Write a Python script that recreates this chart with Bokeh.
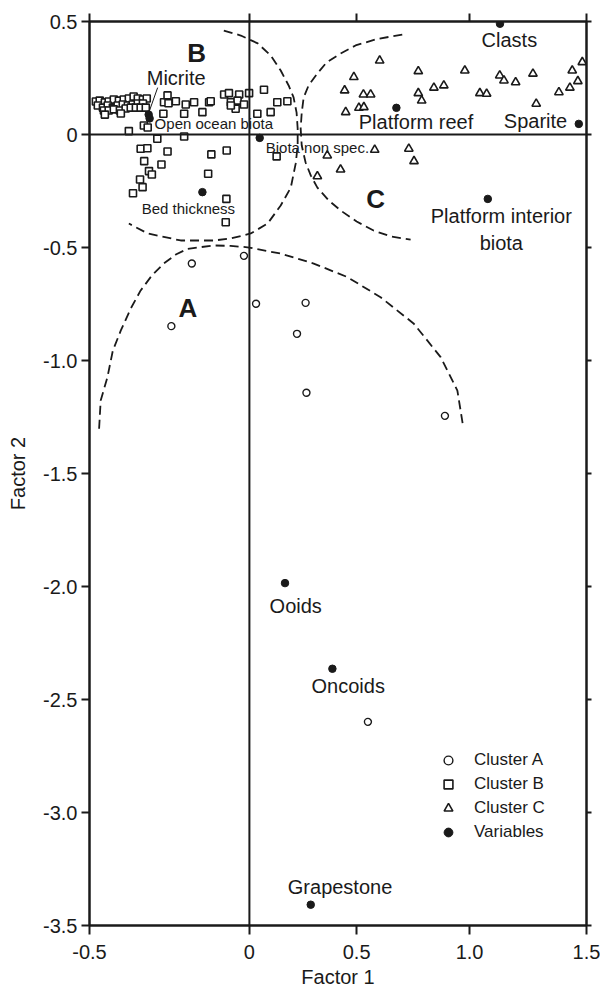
import numpy as np
from bokeh.plotting import figure
from bokeh.models import Range1d, FixedTicker, LinearAxis, Span
from bokeh.core.properties import value
from bokeh.embed import file_html
from bokeh.resources import INLINE

FONT = "Liberation Sans"
INK = "#1a1a1a"

# ---------------- data ----------------
# Cluster A (circles)
a_x = [-0.180, -0.017, -0.244, 0.031, 0.262, 0.222, 0.266, 0.891, 0.550]
a_y = [-0.571, -0.537, -0.848, -0.749, -0.745, -0.882, -1.143, -1.245, -2.599]

# Cluster B (squares)
b_x = [-0.480, -0.468, -0.452, -0.440, -0.424, -0.408, -0.393, -0.377, -0.362, -0.349, -0.333, -0.321,
       -0.474, -0.458, -0.443, -0.427, -0.412, -0.396, -0.380, -0.365, -0.349, -0.333,
       -0.455, -0.440, -0.424, -0.405, -0.387, -0.371, -0.355, -0.340, -0.324,
       -0.452, -0.402,
       -0.330, -0.318, -0.377,
       -0.267, -0.256, -0.253, -0.230, -0.199, -0.173, -0.147, -0.204, -0.269, -0.126, -0.121,
       -0.079, -0.064, -0.032, -0.001, -0.058, -0.037, -0.017, -0.043, -0.058,
       0.068, 0.037, 0.099, 0.130, 0.177,
       -0.288, -0.204, -0.340, -0.319, -0.256, -0.329, -0.275, -0.314, -0.305, -0.342, -0.334, -0.364,
       -0.119, -0.071, -0.129, -0.072, -0.074, 0.127]
b_y = [0.146, 0.150, 0.142, 0.146, 0.155, 0.150, 0.155, 0.159, 0.168, 0.159, 0.155, 0.159,
       0.128, 0.119, 0.128, 0.119, 0.128, 0.133, 0.128, 0.133, 0.137, 0.137,
       0.106, 0.106, 0.111, 0.106, 0.115, 0.119, 0.119, 0.119, 0.119,
       0.088, 0.093,
       0.040, 0.031, 0.015,
       0.143, 0.173, 0.138, 0.147, 0.133, 0.143, 0.099, 0.092, 0.092, 0.143, 0.147,
       0.177, 0.183, 0.177, 0.183, 0.143, 0.150, 0.133, 0.114, 0.128,
       0.198, 0.092, 0.099, 0.143, 0.147,
       -0.019, -0.009, -0.063, -0.061, -0.075, -0.118, -0.133, -0.162, -0.177, -0.199, -0.233, -0.260,
       -0.088, -0.071, -0.174, -0.285, -0.388, -0.097]

# Cluster C (triangles)
c_x = [0.602, 0.487, 0.444, 0.530, 0.562, 0.449, 0.510, 0.532, 0.773, 0.773, 0.788, 0.842, 0.886,
       0.979, 1.044, 1.073, 1.129, 1.147, 1.197, 1.271, 1.285, 1.382, 1.429, 1.439, 1.463, 1.482,
       0.580, 0.731, 0.754, 0.363, 0.425, 0.317]
c_y = [0.327, 0.254, 0.195, 0.177, 0.177, 0.099, 0.118, 0.121, 0.280, 0.183, 0.150, 0.207, 0.217,
       0.283, 0.183, 0.180, 0.261, 0.239, 0.231, 0.269, 0.136, 0.187, 0.207, 0.283, 0.236, 0.320,
       -0.068, -0.063, -0.118, -0.093, -0.155, -0.185]

# Variables (filled dots)
var_names = ["Micrite", "Open ocean biota", "Biota non spec.", "Bed thickness", "Platform reef",
             "Clasts", "Sparite", "Platform interior biota", "Ooids", "Oncoids", "Grapestone"]
var_x = [-0.315, -0.312, 0.048, -0.147, 0.676, 1.130, 1.467, 1.078, 0.166, 0.387, 0.286]
var_y = [0.088, 0.071, -0.015, -0.255, 0.118, 0.490, 0.047, -0.285, -1.985, -2.364, -3.408]

# Cluster envelopes (dashed boundaries)
env_a_x = [-0.470, -0.465, -0.444, -0.427, -0.402, -0.371, -0.340, -0.305, -0.268, -0.230, -0.194,
           -0.112, -0.059, -0.006, 0.146, 0.300, 0.457, 0.606, 0.752, 0.872, 0.946, 0.972]
env_a_y = [-1.302, -1.177, -1.074, -0.956, -0.867, -0.770, -0.690, -0.624, -0.571, -0.531, -0.506,
           -0.491, -0.493, -0.499, -0.527, -0.571, -0.631, -0.720, -0.836, -0.985, -1.133, -1.295]
env_b_x = [-0.080, -0.027, 0.039, 0.099, 0.146, 0.183, 0.206, 0.220, 0.225, 0.225, 0.216, 0.193,
           0.146, 0.085, 0.006, -0.058, -0.111, -0.215, -0.318, -0.377]
env_b_y = [0.460, 0.438, 0.403, 0.350, 0.283, 0.217, 0.164, 0.097, 0.027, -0.049, -0.128, -0.235,
           -0.314, -0.394, -0.438, -0.460, -0.469, -0.469, -0.438, -0.394]
env_c_x = [0.702, 0.592, 0.495, 0.425, 0.360, 0.317, 0.276, 0.253, 0.244, 0.239, 0.244, 0.262,
           0.286, 0.317, 0.370, 0.425, 0.500, 0.575, 0.651, 0.739]
env_c_y = [0.442, 0.423, 0.394, 0.358, 0.319, 0.270, 0.217, 0.164, 0.097, 0.027, -0.049, -0.124,
           -0.181, -0.235, -0.292, -0.336, -0.385, -0.425, -0.451, -0.465]

region_names = ["A", "B", "C"]
region_x = [-0.192, -0.165, 0.584]
region_y = [-0.767, 0.361, -0.285]

x_ticks = [-0.5, 0.0, 0.5, 1.0, 1.5]
x_tick_labels = ["-0.5", "0", "0.5", "1.0", "1.5"]
y_ticks = [0.5, 0.0, -0.5, -1.0, -1.5, -2.0, -2.5, -3.0, -3.5]
y_tick_labels = ["0.5", "0", "-0.5", "-1.0", "-1.5", "-2.0", "-2.5", "-3.0", "-3.5"]

# ---------------- layout / style ----------------
W, H = 600, 991
BL, BR, BT, BB = 89, 14, 21, 66
FRAME_W = W - BL - BR
FRAME_H = H - BT - BB

# The Factor-1 axis of the reference is not uniform: -0.5..0 is drawn wider.
WARP_X = [-0.5, 0.0, 0.5, 1.0, 1.5]
WARP_U = [0.0, 160.0, 267.3, 380.3, 497.3]


def fx(v):
    return np.round(np.interp(np.asarray(v, dtype=float), WARP_X, WARP_U), 3)


U_PER_PX = WARP_U[-1] / FRAME_W
Y_PER_PX = 4.0 / FRAME_H

# label placement (screen px offsets from each dot), alignment, size
lab_dx = [27.5, 5, 6, -14, 19.6, 9.4, -11.6, 13.5, 10.7, 15.8, 29.3]
lab_dy = [-37, 5, 9.4, 16.1, 13.9, 16.2, -3, 30.7, 23.1, 17.5, -17.5]
lab_align = ["center", "left", "left", "center", "center", "center", "right", "center", "center", "center", "center"]
lab_size = ["20px", "15px", "15px", "15px", "20px", "20px", "20px", "20px", "20px", "20px", "20px"]

p = figure(width=W, height=H, x_range=Range1d(WARP_U[0], WARP_U[-1]), y_range=Range1d(-3.5, 0.5),
           output_backend="svg", toolbar_location=None,
           min_border_left=BL, min_border_right=BR, min_border_top=BT, min_border_bottom=BB,
           x_axis_label="Factor 1", y_axis_label="Factor 2")
p.grid.visible = False
p.outline_line_color = INK
p.outline_line_width = 2
p.background_fill_color = "white"
p.border_fill_color = "white"

xt = [float(u) for u in fx(x_ticks)]
xa = p.xaxis[0]
xa.ticker = FixedTicker(ticks=xt)
xa.major_label_overrides = {u: lab for u, lab in zip(xt, x_tick_labels)}
xa.major_tick_out = 9
xa.major_label_standoff = 10
xa.axis_label_standoff = 4

ya = p.yaxis[0]
ya.ticker = FixedTicker(ticks=y_ticks)
ya.major_label_overrides = {float(v): lab for v, lab in zip(y_ticks, y_tick_labels)}
ya.major_tick_out = 8
ya.major_label_standoff = 4
ya.axis_label_standoff = 11

for ax in (xa, ya):
    ax.axis_line_width = 2
    ax.axis_line_color = INK
    ax.major_tick_line_width = 2
    ax.major_tick_line_color = INK
    ax.major_tick_in = 0
    ax.minor_tick_line_color = None
    ax.major_label_text_font = FONT
    ax.major_label_text_font_size = "20px"
    ax.major_label_text_color = INK
    ax.axis_label_text_font = FONT
    ax.axis_label_text_font_size = "20px"
    ax.axis_label_text_font_style = "normal"
    ax.axis_label_text_color = INK

top = LinearAxis(ticker=FixedTicker(ticks=xt), major_label_overrides={u: "" for u in xt},
                 major_label_text_font_size="0px", major_label_standoff=0,
                 major_tick_in=0, major_tick_out=8, major_tick_line_width=2, major_tick_line_color=INK,
                 axis_line_width=2, axis_line_color=INK, minor_tick_line_color=None)
p.add_layout(top, "above")
right = LinearAxis(ticker=FixedTicker(ticks=y_ticks), major_label_overrides={float(v): "" for v in y_ticks},
                   major_label_text_font_size="0px", major_label_standoff=0,
                   major_tick_in=0, major_tick_out=5, major_tick_line_width=2, major_tick_line_color=INK,
                   axis_line_width=2, axis_line_color=INK, minor_tick_line_color=None)
p.add_layout(right, "right")

p.add_layout(Span(location=float(fx(0.0)), dimension="height", line_color=INK, line_width=2))
p.add_layout(Span(location=0.0, dimension="width", line_color=INK, line_width=2))

for ex, ey in ((env_a_x, env_a_y), (env_b_x, env_b_y), (env_c_x, env_c_y)):
    p.line(fx(ex), ey, line_color=INK, line_width=1.8, line_dash="9 5")

p.scatter(fx(a_x), a_y, marker="circle", size=7, fill_color="white", line_color=INK, line_width=1.4,
          legend_label="Cluster A")
p.scatter(fx(b_x), b_y, marker="square", size=7, fill_color="white", line_color=INK, line_width=1.6,
          legend_label="Cluster B")
p.scatter(fx(c_x), c_y, marker="triangle", size=8.5, fill_color="white", line_color=INK, line_width=1.6,
          legend_label="Cluster C")
p.scatter(fx(var_x), var_y, marker="circle", size=7.5, fill_color=INK, line_color=INK, line_width=1,
          legend_label="Variables")

# Micrite leader line
mx, my = float(fx(var_x[0])), var_y[0]
p.segment(x0=[mx + 9 * U_PER_PX], y0=[my + 27 * Y_PER_PX], x1=[mx + 0.5 * U_PER_PX], y1=[my + 3 * Y_PER_PX],
          line_color=INK, line_width=1)

for i, name in enumerate(var_names):
    disp = "Platform interior\nbiota" if name == "Platform interior biota" else name
    p.text(x=[float(fx(var_x[i]))], y=[var_y[i]], text=[disp], x_offset=lab_dx[i], y_offset=lab_dy[i],
           text_align=lab_align[i], text_baseline="middle", text_font=value(FONT),
           text_font_size=lab_size[i], text_color=INK, text_line_height=1.2)

p.text(x=list(fx(region_x)), y=region_y, text=region_names, text_align="center", text_baseline="middle",
       text_font=value(FONT), text_font_size="26px", text_font_style="bold", text_color=INK)

lg = p.legend[0]
lg.location = (348, 82)
lg.glyph_width = 22
lg.glyph_height = 22
lg.label_height = 22
lg.spacing = 2
lg.label_standoff = 15
lg.padding = 0
lg.margin = 0
lg.border_line_color = None
lg.background_fill_alpha = 0
lg.label_text_font = FONT
lg.label_text_font_size = "17px"
lg.label_text_color = INK

open("out.html", "w").write(file_html(p, INLINE))
